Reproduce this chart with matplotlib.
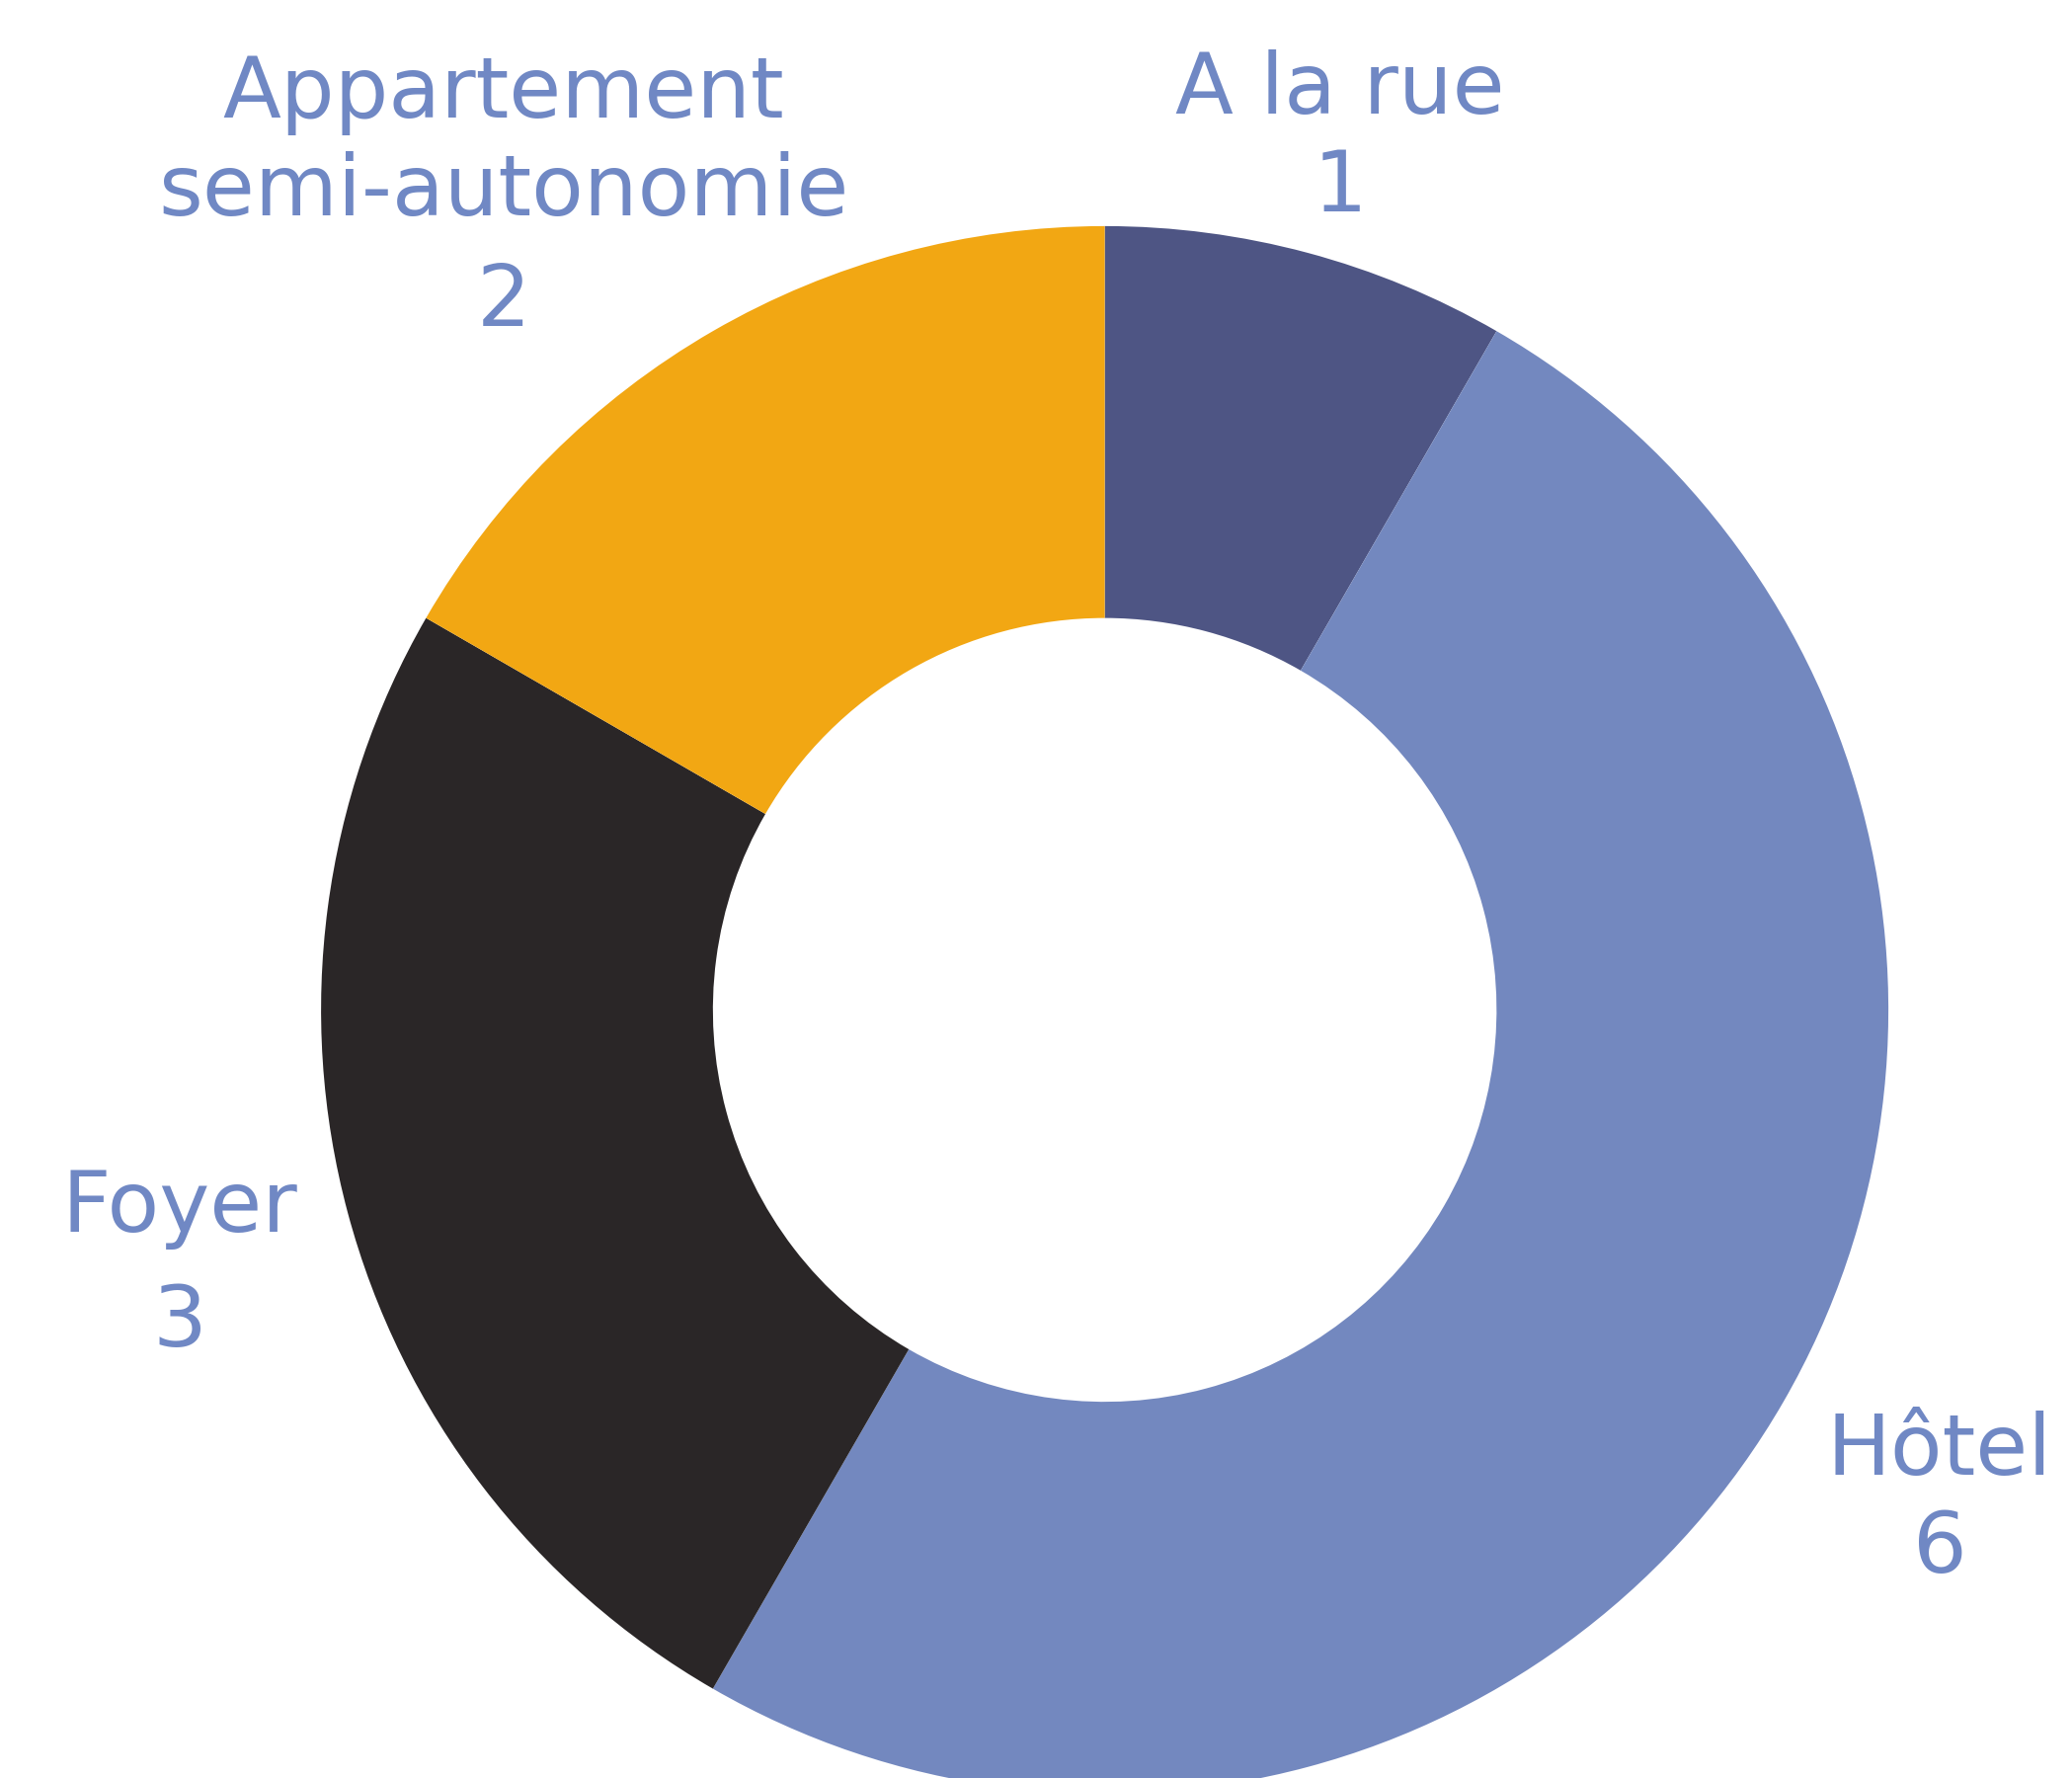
import matplotlib
matplotlib.use("Agg")
import matplotlib.pyplot as plt

categories = ["A la rue", "Hôtel", "Foyer", "Appartement\nsemi-autonomie"]
values = [1, 6, 3, 2]
colors = ["#4E5584", "#7388BF", "#2A2627", "#F2A713"]
text_color = "#7088C4"

W, H = 2098, 1800
fig = plt.figure(figsize=(W / 100, H / 100), dpi=100)
ax = fig.add_axes([0, 0, 1, 1])
ax.set_xlim(0, W)
ax.set_ylim(0, H)
ax.set_aspect("equal")
ax.axis("off")

cx, cy_top = 1118.6, 1022.4
R = 793.5
ax.pie(values, colors=colors, startangle=90, counterclock=False,
       center=(cx, H - cy_top), radius=R,
       wedgeprops=dict(width=R * 0.5, edgecolor="none", linewidth=0))
ax.set_xlim(0, W)
ax.set_ylim(0, H)

# label anchor: (x centre, list of baselines from top)
label_pos = [
    (1357, [115, 214]),
    (1964, [1493, 1592]),
    (182, [1247, 1363]),
    (510, [119, 218, 330]),
]
font = dict(family=["DejaVu Sans"], fontweight="normal", fontsize=62, color=text_color)
for cat, val, (x, bls) in zip(categories, values, label_pos):
    lines = cat.split("\n") + [str(val)]
    for line, b in zip(lines, bls):
        ax.text(x, H - b, line, ha="center", va="baseline", **font)

fig.savefig("out.png", dpi=100)
